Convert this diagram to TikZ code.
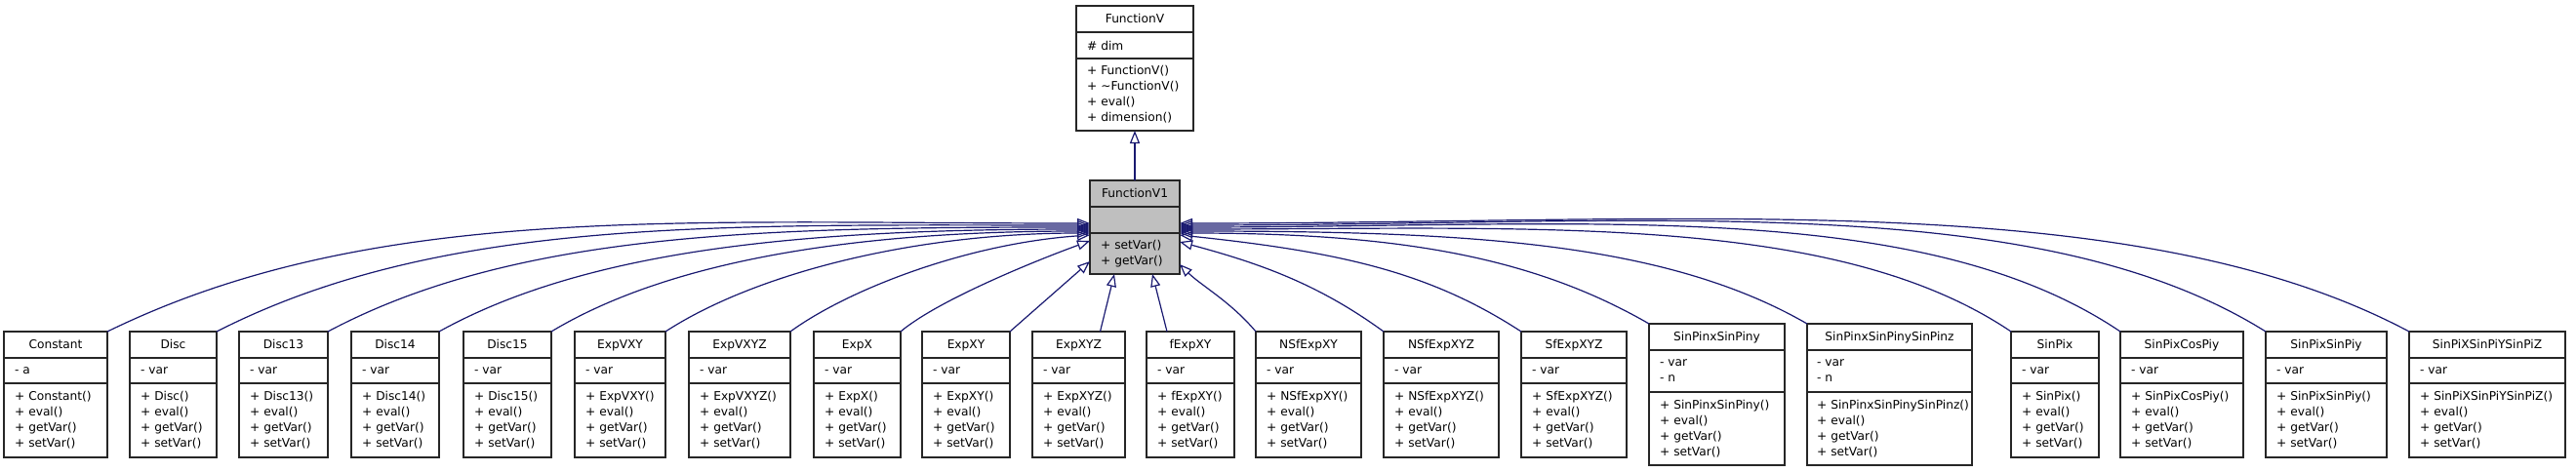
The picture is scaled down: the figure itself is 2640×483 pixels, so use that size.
\documentclass[tikz,border=0pt]{standalone}
\usepackage{fontspec}
\setmainfont{DejaVu Sans}
\usetikzlibrary{positioning, arrows.meta}
\definecolor{doxyBlue}{RGB}{25, 25, 112}
\definecolor{doxyGray}{RGB}{191, 191, 191}
\hyphenpenalty=10000

\begin{document}
\begin{tikzpicture}[x=1pt, y=1pt, font=\fontsize{12.2}{16}\selectfont]
    \tikzstyle{block} = [draw=black!85, line width=1.4pt, fill=white, minimum height=27pt, inner sep=0pt, outer sep=0pt, text height=9.5pt, text depth=1.5pt]
    \tikzstyle{part} = [draw=black!85, line width=1.4pt, fill=white, align=left, inner xsep=11pt, inner ysep=0pt, outer sep=0pt, minimum height=26pt]
    \tikzstyle{line} = [draw=doxyBlue, line width=1.2pt, -{Triangle[open, length=13pt, width=10pt]}]

    \useasboundingbox (0,0) rectangle (2640,-483);

    % base classes
    \node [block, minimum width=120pt, anchor=north west] (fv) at (1103,-6) {FunctionV};
    \node [part, text width=98pt, minimum height=27pt, below=0pt of fv] (fv-a) {\#~dim};
    \node [part, text width=98pt, minimum height=74pt, below=0pt of fv-a] (fv-m) {+~FunctionV()\\+~\textasciitilde FunctionV()\\+~eval()\\+~dimension()};

    \node [block, fill=doxyGray, minimum width=92pt, anchor=north west] (fv1) at (1117,-185) {FunctionV1};
    \node [part, fill=doxyGray, text width=70pt, minimum height=27pt, below=0pt of fv1] (fv1-a) {};
    \node [part, fill=doxyGray, text width=70pt, minimum height=42pt, below=0pt of fv1-a] (fv1-m) {+~setVar()\\+~getVar()};

    % derived classes
    \node [block, minimum width=106pt, anchor=north west] (constant) at (4,-340) {Constant};
    \node [part, text width=84pt, below=0pt of constant] (constant-a) {-~a};
    \node [part, text width=84pt, minimum height=76pt, below=0pt of constant-a] (constant-m) {+~Constant()\\+~eval()\\+~getVar()\\+~setVar()};

    \node [block, minimum width=89pt, anchor=north west] (disc) at (133,-340) {Disc};
    \node [part, text width=67pt, below=0pt of disc] (disc-a) {-~var};
    \node [part, text width=67pt, minimum height=76pt, below=0pt of disc-a] (disc-m) {+~Disc()\\+~eval()\\+~getVar()\\+~setVar()};

    \node [block, minimum width=91pt, anchor=north west] (disc13) at (245,-340) {Disc13};
    \node [part, text width=69pt, below=0pt of disc13] (disc13-a) {-~var};
    \node [part, text width=69pt, minimum height=76pt, below=0pt of disc13-a] (disc13-m) {+~Disc13()\\+~eval()\\+~getVar()\\+~setVar()};

    \node [block, minimum width=90pt, anchor=north west] (disc14) at (360,-340) {Disc14};
    \node [part, text width=68pt, below=0pt of disc14] (disc14-a) {-~var};
    \node [part, text width=68pt, minimum height=76pt, below=0pt of disc14-a] (disc14-m) {+~Disc14()\\+~eval()\\+~getVar()\\+~setVar()};

    \node [block, minimum width=90pt, anchor=north west] (disc15) at (475,-340) {Disc15};
    \node [part, text width=68pt, below=0pt of disc15] (disc15-a) {-~var};
    \node [part, text width=68pt, minimum height=76pt, below=0pt of disc15-a] (disc15-m) {+~Disc15()\\+~eval()\\+~getVar()\\+~setVar()};

    \node [block, minimum width=93pt, anchor=north west] (expvxy) at (589,-340) {ExpVXY};
    \node [part, text width=71pt, below=0pt of expvxy] (expvxy-a) {-~var};
    \node [part, text width=71pt, minimum height=76pt, below=0pt of expvxy-a] (expvxy-m) {+~ExpVXY()\\+~eval()\\+~getVar()\\+~setVar()};

    \node [block, minimum width=104pt, anchor=north west] (expvxyz) at (706,-340) {ExpVXYZ};
    \node [part, text width=82pt, below=0pt of expvxyz] (expvxyz-a) {-~var};
    \node [part, text width=82pt, minimum height=76pt, below=0pt of expvxyz-a] (expvxyz-m) {+~ExpVXYZ()\\+~eval()\\+~getVar()\\+~setVar()};

    \node [block, minimum width=89pt, anchor=north west] (expx) at (834,-340) {ExpX};
    \node [part, text width=67pt, below=0pt of expx] (expx-a) {-~var};
    \node [part, text width=67pt, minimum height=76pt, below=0pt of expx-a] (expx-m) {+~ExpX()\\+~eval()\\+~getVar()\\+~setVar()};

    \node [block, minimum width=90pt, anchor=north west] (expxy) at (945,-340) {ExpXY};
    \node [part, text width=68pt, below=0pt of expxy] (expxy-a) {-~var};
    \node [part, text width=68pt, minimum height=76pt, below=0pt of expxy-a] (expxy-m) {+~ExpXY()\\+~eval()\\+~getVar()\\+~setVar()};

    \node [block, minimum width=95pt, anchor=north west] (expxyz) at (1058,-340) {ExpXYZ};
    \node [part, text width=73pt, below=0pt of expxyz] (expxyz-a) {-~var};
    \node [part, text width=73pt, minimum height=76pt, below=0pt of expxyz-a] (expxyz-m) {+~ExpXYZ()\\+~eval()\\+~getVar()\\+~setVar()};

    \node [block, minimum width=90pt, anchor=north west] (fexpxy) at (1175,-340) {fExpXY};
    \node [part, text width=68pt, below=0pt of fexpxy] (fexpxy-a) {-~var};
    \node [part, text width=68pt, minimum height=76pt, below=0pt of fexpxy-a] (fexpxy-m) {+~fExpXY()\\+~eval()\\+~getVar()\\+~setVar()};

    \node [block, minimum width=108pt, anchor=north west] (nsfexpxy) at (1287,-340) {NSfExpXY};
    \node [part, text width=86pt, below=0pt of nsfexpxy] (nsfexpxy-a) {-~var};
    \node [part, text width=86pt, minimum height=76pt, below=0pt of nsfexpxy-a] (nsfexpxy-m) {+~NSfExpXY()\\+~eval()\\+~getVar()\\+~setVar()};

    \node [block, minimum width=118pt, anchor=north west] (nsfexpxyz) at (1418,-340) {NSfExpXYZ};
    \node [part, text width=96pt, below=0pt of nsfexpxyz] (nsfexpxyz-a) {-~var};
    \node [part, text width=96pt, minimum height=76pt, below=0pt of nsfexpxyz-a] (nsfexpxyz-m) {+~NSfExpXYZ()\\+~eval()\\+~getVar()\\+~setVar()};

    \node [block, minimum width=108pt, anchor=north west] (sfexpxyz) at (1559,-340) {SfExpXYZ};
    \node [part, text width=86pt, below=0pt of sfexpxyz] (sfexpxyz-a) {-~var};
    \node [part, text width=86pt, minimum height=76pt, below=0pt of sfexpxyz-a] (sfexpxyz-m) {+~SfExpXYZ()\\+~eval()\\+~getVar()\\+~setVar()};

    \node [block, minimum width=139pt, anchor=north west] (sinpinxy) at (1690,-332) {SinPinxSinPiny};
    \node [part, text width=117pt, minimum height=43pt, below=0pt of sinpinxy] (sinpinxy-a) {-~var\\-~n};
    \node [part, text width=117pt, minimum height=75pt, below=0pt of sinpinxy-a] (sinpinxy-m) {+~SinPinxSinPiny()\\+~eval()\\+~getVar()\\+~setVar()};

    \node [block, minimum width=169pt, anchor=north west] (sinpinxyz) at (1852,-332) {SinPinxSinPinySinPinz};
    \node [part, text width=149pt, inner xsep=10pt, minimum height=43pt, below=0pt of sinpinxyz] (sinpinxyz-a) {-~var\\-~n};
    \node [part, text width=149pt, inner xsep=10pt, minimum height=75pt, below=0pt of sinpinxyz-a] (sinpinxyz-m) {+~SinPinxSinPinySinPinz()\\+~eval()\\+~getVar()\\+~setVar()};

    \node [block, minimum width=90pt, anchor=north west] (sinpix) at (2061,-340) {SinPix};
    \node [part, text width=68pt, below=0pt of sinpix] (sinpix-a) {-~var};
    \node [part, text width=68pt, minimum height=76pt, below=0pt of sinpix-a] (sinpix-m) {+~SinPix()\\+~eval()\\+~getVar()\\+~setVar()};

    \node [block, minimum width=126pt, anchor=north west] (sinpixcospiy) at (2173,-340) {SinPixCosPiy};
    \node [part, text width=104pt, below=0pt of sinpixcospiy] (sinpixcospiy-a) {-~var};
    \node [part, text width=104pt, minimum height=76pt, below=0pt of sinpixcospiy-a] (sinpixcospiy-m) {+~SinPixCosPiy()\\+~eval()\\+~getVar()\\+~setVar()};

    \node [block, minimum width=124pt, anchor=north west] (sinpixsinpiy) at (2322,-340) {SinPixSinPiy};
    \node [part, text width=102pt, below=0pt of sinpixsinpiy] (sinpixsinpiy-a) {-~var};
    \node [part, text width=102pt, minimum height=76pt, below=0pt of sinpixsinpiy-a] (sinpixsinpiy-m) {+~SinPixSinPiy()\\+~eval()\\+~getVar()\\+~setVar()};

    \node [block, minimum width=160pt, anchor=north west] (sinpixyz) at (2469,-340) {SinPiXSinPiYSinPiZ};
    \node [part, text width=138pt, below=0pt of sinpixyz] (sinpixyz-a) {-~var};
    \node [part, text width=138pt, minimum height=76pt, below=0pt of sinpixyz-a] (sinpixyz-m) {+~SinPiXSinPiYSinPiZ()\\+~eval()\\+~getVar()\\+~setVar()};

    % inheritance
    \path [line] (fv1) -- (fv-m);

    \path [line] (constant.north east) .. controls +(26:300) and +(180:430) .. ([yshift=10pt]fv1-a.south west);
    \path [line] (disc.north east) .. controls +(27:260) and +(180:380) .. ([yshift=8pt]fv1-a.south west);
    \path [line] (disc13.north east) .. controls +(28:220) and +(180:330) .. ([yshift=6pt]fv1-a.south west);
    \path [line] (disc14.north east) .. controls +(29:180) and +(180:280) .. ([yshift=4pt]fv1-a.south west);
    \path [line] (disc15.north east) .. controls +(31:145) and +(180:235) .. ([yshift=2pt]fv1-a.south west);
    \path [line] (expvxy.north east) .. controls +(33:110) and +(180:180) .. (fv1-a.south west);
    \path [line] (expvxyz.north east) .. controls +(36:75) and +(184:125) .. ([yshift=-2pt]fv1-a.south west);
    \path [line] (expx.north east) .. controls +(40:50) and +(200:60) .. ([yshift=-8pt]fv1-a.south west);
    \path [line] (expxy.north east) -- ([yshift=13pt]fv1-m.south west);
    \path [line] ([xshift=22pt]expxyz.north) -- ([xshift=-21pt]fv1-m.south);
    \path [line] ([xshift=-24pt]fexpxy.north) -- ([xshift=18pt]fv1-m.south);
    \path [line] (nsfexpxy.north west) .. controls +(130:40) and +(-45:30) .. ([yshift=10pt]fv1-m.south east);
    \path [line] (nsfexpxyz.north west) .. controls +(144:80) and +(-15:90) .. ([yshift=-9pt]fv1-a.south east);
    \path [line] (sfexpxyz.north west) .. controls +(147:110) and +(-6:170) .. ([yshift=-2pt]fv1-a.south east);
    \path [line] (sinpinxy.north west) .. controls +(150:140) and +(0:220) .. (fv1-a.south east);
    \path [line] (sinpinxyz.north west) .. controls +(150:170) and +(0:290) .. ([yshift=2pt]fv1-a.south east);
    \path [line] (sinpix.north west) .. controls +(146:220) and +(0:360) .. ([yshift=4pt]fv1-a.south east);
    \path [line] (sinpixcospiy.north west) .. controls +(146:250) and +(0:410) .. ([yshift=6pt]fv1-a.south east);
    \path [line] (sinpixsinpiy.north west) .. controls +(148:280) and +(0:480) .. ([yshift=8pt]fv1-a.south east);
    \path [line] (sinpixyz.north west) .. controls +(152:320) and +(0:530) .. ([yshift=10pt]fv1-a.south east);
\end{tikzpicture}
\end{document}
